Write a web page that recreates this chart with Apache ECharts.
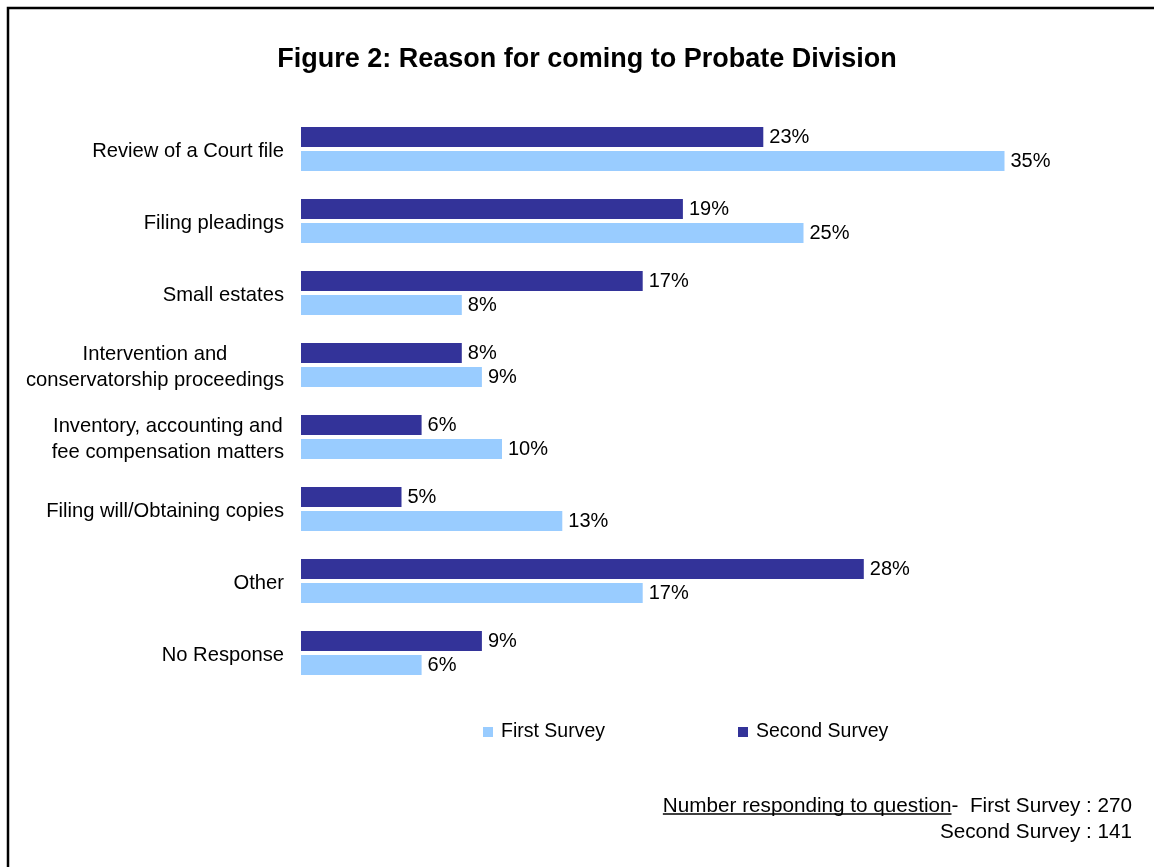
<!DOCTYPE html>
<html>
<head>
<meta charset="utf-8">
<script src="https://cdn.jsdelivr.net/npm/echarts@6/dist/echarts.min.js"></script>
<style>
  html, body { margin: 0; padding: 0; background: #fff; }
  #chart { width: 1154px; height: 867px; }
</style>
</head>
<body>
<div id="chart"></div>
<script>
// Reasons for coming to the Probate Division (percent of respondents)
const categories = [
  'Review of a Court file',
  'Filing pleadings',
  'Small estates',
  'Intervention and\nconservatorship proceedings',
  'Inventory, accounting and\nfee compensation matters',
  'Filing will/Obtaining copies',
  'Other',
  'No Response'
];
const firstSurvey = [35, 25, 8, 9, 10, 13, 17, 6];
const secondSurvey = [23, 19, 17, 8, 6, 5, 28, 9];
const seriesNames = ['First Survey', 'Second Survey'];
const respondents = { first: 270, second: 141 };

const FONT = "'Liberation Sans', Arial, sans-serif";
const NOTE_FONT = '20.7px ' + FONT;
const chart = echarts.init(document.getElementById('chart'), null, { renderer: 'canvas' });

// measure footnote pieces so the underline sits under the lead-in words
const ctx = document.createElement('canvas').getContext('2d');
ctx.font = NOTE_FONT;
const noteLead = 'Number responding to question';
const noteTail = '-  First Survey : ' + respondents.first;
const noteRight = 1132;
const tailW = ctx.measureText(noteTail).width;
const leadW = ctx.measureText(noteLead).width;
const leadRight = noteRight - tailW;

const valueLabel = {
  show: true,
  position: 'right',
  distance: 6,
  formatter: p => p.value + '%',
  color: '#000',
  fontFamily: FONT,
  fontSize: 20
};

chart.setOption({
  backgroundColor: '#fff',
  animation: false,
  title: {
    text: 'Figure 2: Reason for coming to Probate Division',
    left: 582,
    textAlign: 'center',
    top: 41,
    textStyle: { fontFamily: FONT, fontSize: 27, fontWeight: 'bold', color: '#000' }
  },
  legend: {
    data: seriesNames,
    left: 478,
    top: 717,
    icon: 'rect',
    itemWidth: 10,
    itemHeight: 10,
    itemGap: 133,
    textStyle: { fontFamily: FONT, fontSize: 19.5, color: '#000', padding: [0, 0, 0, 3] }
  },
  grid: { left: 301, top: 113, height: 576, right: 49, containLabel: false },
  xAxis: {
    type: 'value',
    min: 0,
    max: 40,
    show: false
  },
  yAxis: {
    type: 'category',
    data: categories,
    inverse: true,
    axisLine: { show: false },
    axisTick: { show: false },
    splitLine: { show: false },
    axisLabel: {
      margin: 17,
      color: '#000',
      fontFamily: FONT,
      fontSize: 20.2,
      lineHeight: 26,
      padding: [4, 0, 0, 0],
      formatter: v => v.split('\n').map(s => '{c|' + s + '}').join('\n'),
      rich: { c: { align: 'center', fontFamily: FONT, fontSize: 20.2, lineHeight: 26, color: '#000' } }
    }
  },
  series: [
    {
      name: seriesNames[1],
      type: 'bar',
      data: secondSurvey,
      barWidth: 20,
      barGap: '20%',
      itemStyle: { color: '#333399' },
      label: valueLabel
    },
    {
      name: seriesNames[0],
      type: 'bar',
      data: firstSurvey,
      barWidth: 20,
      barGap: '20%',
      itemStyle: { color: '#99CCFF' },
      label: valueLabel
    }
  ],
  graphic: [
    {
      type: 'rect',
      shape: { x: 8, y: 8, width: 1170, height: 880 },
      style: { fill: 'none', stroke: '#000', lineWidth: 2.5 },
      silent: true
    },
    {
      type: 'text',
      x: noteRight,
      y: 796,
      style: { text: noteTail, font: NOTE_FONT, fill: '#000', align: 'right', verticalAlign: 'top' }
    },
    {
      type: 'text',
      x: leadRight,
      y: 796,
      style: { text: noteLead, font: NOTE_FONT, fill: '#000', align: 'right', verticalAlign: 'top' }
    },
    {
      type: 'line',
      shape: { x1: leadRight - leadW, y1: 814, x2: leadRight, y2: 814 },
      style: { stroke: '#000', lineWidth: 1.5 }
    },
    {
      type: 'text',
      x: noteRight,
      y: 822,
      style: { text: 'Second Survey : ' + respondents.second, font: NOTE_FONT, fill: '#000', align: 'right', verticalAlign: 'top' }
    }
  ]
});
</script>
</body>
</html>
